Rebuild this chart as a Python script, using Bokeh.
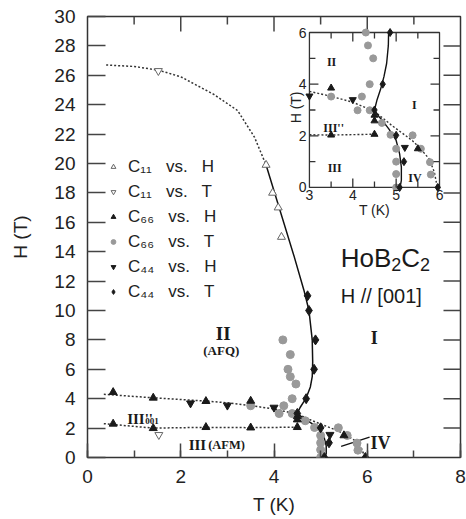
import numpy as np
from bokeh.plotting import figure
from bokeh.models import (Range1d, SingleIntervalTicker, Label, Legend, LegendItem)
from bokeh.core.properties import value
from bokeh.embed import file_html
from bokeh.resources import INLINE

# ---------------- data (T in K, H in T) ----------------
c11_h_T = [3.83, 3.97, 4.09, 4.16]
c11_h_H = [19.9, 18.0, 17.0, 15.0]
c11_t_T = [1.52, 1.53]
c11_t_H = [26.3, 1.54]
c66_h_T = [0.55, 1.41, 2.54, 3.50, 0.55, 1.41, 2.54, 3.50, 4.50, 4.50, 4.50, 5.50]
c66_h_H = [4.44, 4.06, 3.83, 3.85, 2.29, 1.99, 2.06, 2.03, 2.80, 2.58, 2.06, 1.50]
c66_t_T = [4.19, 4.35, 4.30, 4.35, 4.47, 4.39, 4.21, 3.50, 4.11, 4.39, 4.67, 4.87,
           5.00, 5.00, 5.00, 5.00, 5.38, 5.57, 5.78, 5.80]
c66_t_H = [8.0, 7.0, 6.0, 5.5, 5.0, 4.0, 3.52, 3.52, 2.99, 2.99, 2.50, 2.04,
           1.50, 1.00, 0.52, 0.0, 2.02, 1.50, 0.98, 0.50]
c44_h_T = [2.21, 3.00, 4.00, 5.20]
c44_h_H = [3.69, 3.54, 3.40, 1.55]
c44_t_T = [4.72, 4.75, 4.89, 4.86, 4.69, 4.50, 5.00, 5.18, 5.08, 5.96]
c44_t_H = [11.0, 10.0, 8.0, 6.0, 4.0, 3.0, 2.02, 1.0, 0.0, 0.0]

# phase boundaries
afq_dot_T = [0.40, 1.00, 1.52, 2.00, 2.71, 3.22, 3.58, 3.83]
afq_dot_H = [26.7, 26.6, 26.35, 25.9, 24.7, 23.6, 21.8, 19.9]
afq_sol_T = [3.83, 4.43, 4.64, 4.75, 4.82, 4.83, 4.82, 4.78, 4.72, 4.64, 4.56, 4.50,
             4.60, 4.68, 4.83, 5.00, 5.08, 5.12, 5.12, 5.09]
afq_sol_H = [19.9, 13.7, 11.4, 10.0, 8.0, 6.5, 5.5, 4.8, 4.3, 3.8, 3.4, 3.0,
             2.75, 2.60, 2.27, 1.82, 1.30, 0.79, 0.27, 0.0]
up3_T = [0.35, 1.41, 2.50, 3.00, 3.50, 4.00, 4.50, 4.90, 5.37, 5.56, 5.76, 5.88, 5.95]
up3_H = [4.30, 4.06, 3.85, 3.72, 3.53, 3.30, 2.95, 2.40, 1.82, 1.50, 1.11, 0.60, 0.00]
lo3_T = [0.35, 1.41, 2.54, 3.50, 4.45]
lo3_H = [2.30, 2.00, 2.05, 2.03, 2.06]
iv_T = [5.44, 6.05]
iv_H = [0.75, 1.38]

# tick positions
main_x_major = [2, 4, 6]
main_x_minor = [1, 3, 5, 7]
main_y_major = list(range(2, 30, 2))
inset_xmaj = [3, 4, 5, 6]
inset_xmin = [3.5, 4.5, 5.5]
inset_ymaj = [0, 2, 4, 6]
inset_ymin = [1, 3, 5]

SANS = "Liberation Sans"
SERIF = "Liberation Serif"
GRAY = "#999999"
INK = "#1a1a1a"
NB = "\u00a0"

# inset placement (in main data coordinates)
IN_T0, IN_T1, IN_H0, IN_H1 = 4.76, 7.55, 18.37, 28.91
IX0, IX1, IY0, IY1 = 3.0, 6.0, 0.0, 6.0

p = figure(width=466, height=519, x_range=Range1d(0, 8), y_range=Range1d(0, 30),
           output_backend="svg", toolbar_location=None,
           min_border_left=87, min_border_right=6, min_border_top=16, min_border_bottom=62)
p.xgrid.visible = False
p.ygrid.visible = False
p.outline_line_color = "#333333"
p.outline_line_width = 1.5
p.background_fill_color = "white"

def style_axis(ax, tin, minin):
    ax.axis_line_color = None
    ax.major_tick_in = tin
    ax.major_tick_out = 0
    ax.minor_tick_in = minin
    ax.minor_tick_out = 0
    ax.major_tick_line_color = "#444444"
    ax.minor_tick_line_color = "#444444"
    ax.major_tick_line_width = 1.5
    ax.minor_tick_line_width = 1.5
    ax.major_label_text_font = SANS
    ax.major_label_text_font_size = "19px"
    ax.major_label_text_color = "#222222"
    ax.axis_label_text_font = SANS
    ax.axis_label_text_font_size = "19px"
    ax.axis_label_text_font_style = "normal"
    ax.axis_label_text_color = "#222222"

xa = p.xaxis[0]
xa.ticker = SingleIntervalTicker(interval=2, num_minor_ticks=2)
style_axis(xa, 14, 7)
xa.major_label_standoff = 12
xa.axis_label = "T (K)"
xa.axis_label_standoff = 8
ya = p.yaxis[0]
ya.ticker = SingleIntervalTicker(interval=2, num_minor_ticks=0)
style_axis(ya, 18, 0)
ya.major_label_standoff = 12
ya.axis_label = "H (T)"
ya.axis_label_standoff = 20

# top / right ticks (inward)
MT = dict(line_color="#444444", line_width=1.5, length_units="screen")
p.ray(x=main_x_major, y=[30] * len(main_x_major), length=15, angle=-np.pi / 2, **MT)
p.ray(x=main_x_minor, y=[30] * len(main_x_minor), length=8, angle=-np.pi / 2, **MT)
p.ray(x=[8] * len(main_y_major), y=main_y_major, length=17, angle=np.pi, **MT)

# ---------------- main plot ----------------
p.line(afq_dot_T, afq_dot_H, line_color="#333333", line_width=1.5, line_dash="2 2")
p.line(afq_sol_T, afq_sol_H, line_color="#111111", line_width=1.5)
p.line(up3_T, up3_H, line_color="#333333", line_width=1.5, line_dash="2 2")
p.line(lo3_T, lo3_H, line_color="#333333", line_width=1.5, line_dash="2 2")
p.line(iv_T, iv_H, line_color="#111111", line_width=1.3)

MS = 8
r1 = p.scatter(c11_h_T, c11_h_H, marker="triangle", size=MS, fill_color="white", line_color="#666666", line_width=1)
r2 = p.scatter(c11_t_T, c11_t_H, marker="inverted_triangle", size=MS, fill_color="white", line_color="#666666", line_width=1)
r4 = p.scatter(c66_t_T, c66_t_H, marker="circle", size=MS, fill_color=GRAY, line_color=GRAY)
r3 = p.scatter(c66_h_T, c66_h_H, marker="triangle", size=MS, fill_color=INK, line_color=INK)
r5 = p.scatter(c44_h_T, c44_h_H, marker="inverted_triangle", size=MS, fill_color=INK, line_color=INK)
r6 = p.scatter(c44_t_T, c44_t_H, marker="diamond", size=MS + 2, fill_color=INK, line_color=INK)

def leg(sub, var):
    return "C" + sub + NB + NB + " vs." + NB + NB + " " + var

legend = Legend(items=[
    LegendItem(label=leg("\u2081\u2081", "H"), renderers=[r1]),
    LegendItem(label=leg("\u2081\u2081", "T"), renderers=[r2]),
    LegendItem(label=leg("\u2086\u2086", "H"), renderers=[r3]),
    LegendItem(label=leg("\u2086\u2086", "T"), renderers=[r4]),
    LegendItem(label=leg("\u2084\u2084", "H"), renderers=[r5]),
    LegendItem(label=leg("\u2084\u2084", "T"), renderers=[r6]),
], location=(20, 155), padding=0, margin=0, spacing=4,
    glyph_width=12, glyph_height=21, label_height=21, label_standoff=9,
    label_text_font=SANS, label_text_font_size="17px",
    label_text_color="#222222", border_line_color=None, background_fill_alpha=0)
p.add_layout(legend, "center")

def lab(text, x, y, size, font=SERIF, style="bold", align="left", xo=0, yo=0,
        xr="default", yr="default"):
    p.add_layout(Label(x=x, y=y, text=text, text_font=font, text_font_size=f"{size}px",
                       text_font_style=style, text_align=align, text_baseline="alphabetic",
                       text_color="#1a1a1a", x_offset=xo, y_offset=yo,
                       x_range_name=xr, y_range_name=yr))

lab("II", 2.91, 8.46, 19, align="center")
lab("(AFQ)", 2.87, 7.28, 13, align="center")
lab("I", 6.15, 8.16, 18, align="center")
lab("III''", 0.85, 2.65, 15)
lab("001", 0.85, 2.65, 9, xo=18, yo=-2)
lab("III", 2.17, 0.84, 15)
lab("(AFM)", 2.17, 0.84, 12.5, xo=19.5)
lab("IV", 6.07, 1.02, 18)
lab("HoB", 5.43, 13.54, 26, font=SANS, style="normal")
lab("2", 5.43, 13.54, 18, font=SANS, style="normal", xo=50.6, yo=-6)
lab("C", 5.43, 13.54, 26, font=SANS, style="normal", xo=60.6)
lab("2", 5.43, 13.54, 18, font=SANS, style="normal", xo=79.4, yo=-6)
lab("H // [001]", 5.43, 11.0, 20, font=SANS, style="normal")

# ---------------- inset ----------------
sx = (IX1 - IX0) / (IN_T1 - IN_T0)
sy = (IY1 - IY0) / (IN_H1 - IN_H0)
p.extra_x_ranges = {"ix": Range1d(IX0 - IN_T0 * sx, IX1 + (8 - IN_T1) * sx)}
p.extra_y_ranges = {"iy": Range1d(IY0 - IN_H0 * sy, IY1 + (30 - IN_H1) * sy)}
RN = dict(x_range_name="ix", y_range_name="iy")

p.quad(left=[IX0], right=[IX1], bottom=[IY0], top=[IY1], fill_color="white",
       line_color="#333333", line_width=1.3, **RN)

def clip_polyline(xs, ys, x0, x1, y0, y1):
    pieces, cx, cy = [], [], []
    for i in range(len(xs) - 1):
        ax_, ay_, bx, by = xs[i], ys[i], xs[i + 1], ys[i + 1]
        dx, dy = bx - ax_, by - ay_
        t0, t1, ok = 0.0, 1.0, True
        for pp, q in ((-dx, ax_ - x0), (dx, x1 - ax_), (-dy, ay_ - y0), (dy, y1 - ay_)):
            if pp == 0:
                if q < 0:
                    ok = False
                    break
            else:
                r = q / pp
                if pp < 0:
                    if r > t1:
                        ok = False
                        break
                    t0 = max(t0, r)
                else:
                    if r < t0:
                        ok = False
                        break
                    t1 = min(t1, r)
        if not ok:
            if cx:
                pieces.append((cx, cy))
                cx, cy = [], []
            continue
        if not cx or t0 > 0:
            if cx:
                pieces.append((cx, cy))
            cx, cy = [ax_ + t0 * dx], [ay_ + t0 * dy]
        cx.append(ax_ + t1 * dx)
        cy.append(ay_ + t1 * dy)
        if t1 < 1:
            pieces.append((cx, cy))
            cx, cy = [], []
    if cx:
        pieces.append((cx, cy))
    return pieces

def inset_line(xs, ys, **kw):
    pcs = clip_polyline(xs, ys, IX0, IX1, IY0, IY1)
    if pcs:
        p.multi_line([a for a, b in pcs], [b for a, b in pcs], **kw, **RN)

inset_line(up3_T, up3_H, line_color="#333333", line_width=1.4, line_dash="2 2")
inset_line(lo3_T, lo3_H, line_color="#333333", line_width=1.4, line_dash="2 2")
inset_line(afq_sol_T, afq_sol_H, line_color="#111111", line_width=1.4)

def sel(ts, hs, eps=0.03):
    t = np.asarray(ts, float)
    h = np.asarray(hs, float)
    m = (t >= IX0 - eps) & (t <= IX1 + eps) & (h >= IY0 - eps) & (h <= IY1 + eps)
    return t[m], h[m]

IS = 7
t, h = sel(c66_t_T, c66_t_H)
p.scatter(t, h, marker="circle", size=IS, fill_color=GRAY, line_color=GRAY, **RN)
t, h = sel(c66_h_T, c66_h_H)
p.scatter(t, h, marker="triangle", size=IS, fill_color=INK, line_color=INK, **RN)
t, h = sel(c44_h_T, c44_h_H)
p.scatter(t, h, marker="inverted_triangle", size=IS, fill_color=INK, line_color=INK, **RN)
t, h = sel(c44_t_T, c44_t_H)
p.scatter(t, h, marker="diamond", size=IS + 1, fill_color=INK, line_color=INK, **RN)

# inset ticks
TK = dict(line_color="#333333", line_width=1.3, length_units="screen", **RN)
p.ray(x=inset_xmaj[1:-1], y=[IY0] * 2, length=9, angle=np.pi / 2, **TK)
p.ray(x=inset_xmin, y=[IY0] * 3, length=6, angle=np.pi / 2, **TK)
p.ray(x=inset_xmaj[1:-1], y=[IY1] * 2, length=9, angle=-np.pi / 2, **TK)
p.ray(x=inset_xmin, y=[IY1] * 3, length=6, angle=-np.pi / 2, **TK)
p.ray(x=[IX0] * 2, y=inset_ymaj[1:-1], length=9, angle=0, **TK)
p.ray(x=[IX0] * 3, y=inset_ymin, length=6, angle=0, **TK)
p.ray(x=[IX1] * 2, y=inset_ymaj[1:-1], length=9, angle=np.pi, **TK)
p.ray(x=[IX1] * 3, y=inset_ymin, length=6, angle=np.pi, **TK)

p.text(x=inset_xmaj, y=[IY0] * 4, text=[str(v) for v in inset_xmaj], text_align="center",
       text_baseline="top", y_offset=3, text_font=value(SANS), text_font_size="14px",
       text_color="#222222", **RN)
p.text(x=[IX0] * 4, y=inset_ymaj, text=[str(v) for v in inset_ymaj], text_align="right",
       text_baseline="middle", x_offset=-3, text_font=value(SANS), text_font_size="14px",
       text_color="#222222", **RN)
p.text(x=[4.5], y=[IY0], text=["T (K)"], text_align="center", text_baseline="top",
       y_offset=15, text_font=value(SANS), text_font_size="14px", text_color="#222222", **RN)
p.text(x=[IX0], y=[3.1], text=["H (T)"], text_align="center", text_baseline="middle",
       x_offset=-13, angle=np.pi / 2, text_font=value(SANS), text_font_size="14px",
       text_color="#222222", **RN)

lab("II", 3.51, 4.84, 12, align="center", xr="ix", yr="iy")
lab("I", 5.42, 3.21, 12, align="center", xr="ix", yr="iy")
lab("III''", 3.32, 2.32, 12, xr="ix", yr="iy")
lab("III", 3.42, 0.77, 12, xr="ix", yr="iy")
lab("IV", 5.28, 0.35, 12, xr="ix", yr="iy")

open("out.html", "w").write(file_html(p, INLINE))
